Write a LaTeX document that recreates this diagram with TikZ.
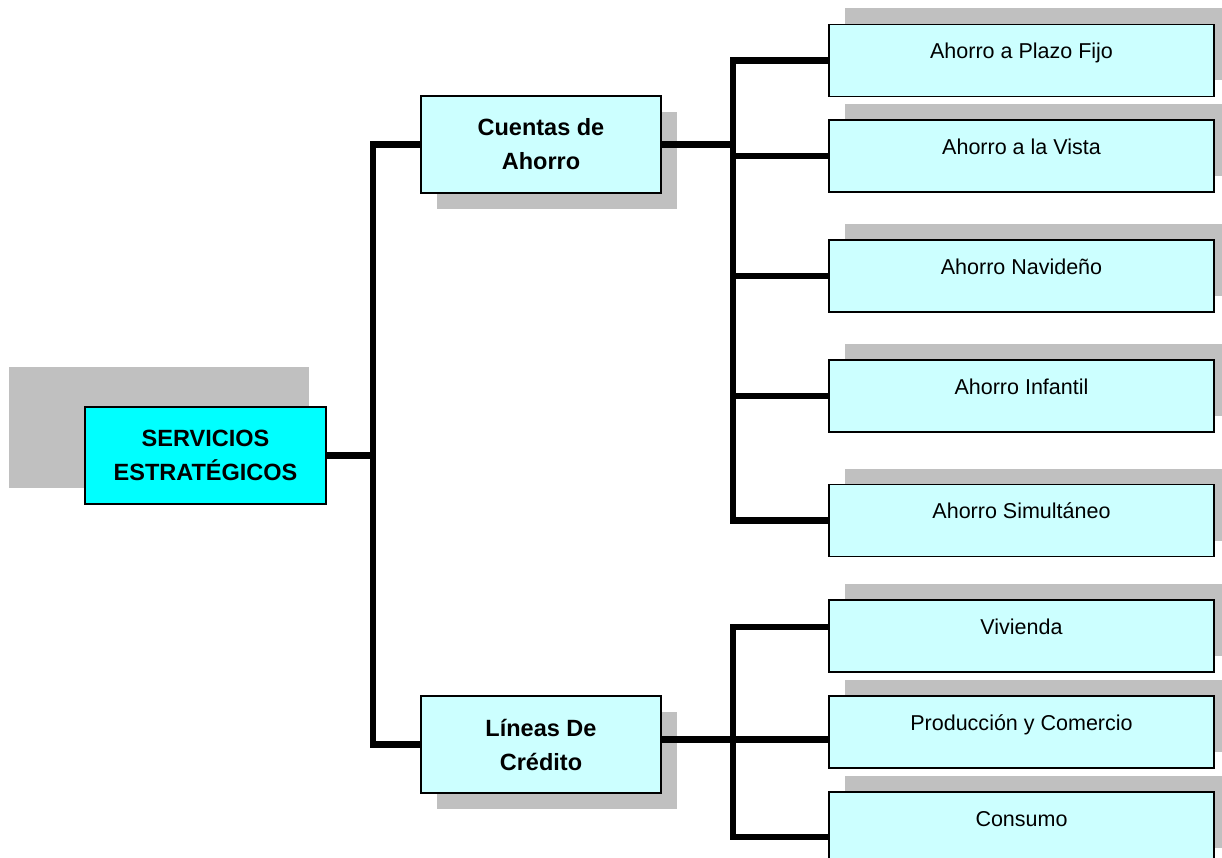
\documentclass[tikz,border=0pt]{standalone}
\usepackage{fontspec}
\setmainfont{Liberation Sans}
\usetikzlibrary{shadows}
\definecolor{boxfill}{HTML}{CCFFFF}
\definecolor{rootfill}{HTML}{00FFFF}
\definecolor{shadowgray}{HTML}{C0C0C0}
\tikzset{
  conn/.style={line width=6.8pt, line join=miter},
  leaf/.style={draw, line width=1.2pt, fill=boxfill, inner sep=0pt,
    minimum width=385pt, minimum height=72pt, text height=15.5pt, text depth=19pt,
    font=\fontsize{21.5}{26}\selectfont,
    drop shadow={shadow xshift=16pt, shadow yshift=16pt, fill=shadowgray, opacity=1}},
  catbox/.style={draw, line width=1.2pt, fill=boxfill, inner sep=0pt,
    minimum width=240pt, minimum height=97pt, align=center,
    font=\bfseries\fontsize{23.5}{34}\selectfont,
    drop shadow={shadow xshift=16pt, shadow yshift=-16pt, fill=shadowgray, opacity=1}},
  rootbox/.style={draw, line width=1.2pt, fill=rootfill, inner sep=0pt,
    minimum width=241pt, minimum height=97pt, align=center,
    font=\bfseries\fontsize{23.5}{34}\selectfont}
}
\begin{document}
\begin{tikzpicture}[x=1pt,y=-1pt]
  \useasboundingbox (0,0) rectangle (1222,858);
  % root with its large offset shadow
  \fill[shadowgray] (9,367) rectangle (309,488);
  \node[rootbox] (root) at (205.5,455.5) {SERVICIOS\\ESTRATÉGICOS};
  \node[catbox] (cuentas) at (541,144.5) {Cuentas de\\Ahorro};
  \node[catbox] (lineas) at (541,744.5) {Líneas De\\Crédito};
  \foreach \name/\y/\txt in {plazo/60.5/Ahorro a Plazo Fijo, vista/156/Ahorro a la Vista,
      navideno/276/Ahorro Navideño, infantil/396/Ahorro Infantil,
      simultaneo/520.5/Ahorro Simultáneo, vivienda/636/Vivienda,
      produccion/732/Producción y Comercio, consumo/828/Consumo}
    \node[leaf] (\name) at (1021.5,\y) {\txt};
  % trunks
  \coordinate (t1) at (373,455.5);
  \coordinate (t2) at (733,300);
  \coordinate (t3) at (733,739.5);
  \draw[conn] (root.east) -- (root.east -| t1);
  \draw[conn] (cuentas.west) -| (t1) |- (lineas.west);
  \draw[conn] (cuentas.east) -- (cuentas.east -| t2);
  \draw[conn] (plazo.west) -| (t2) |- (simultaneo.west);
  \foreach \name in {vista,navideno,infantil}
    \draw[conn] (t2 |- \name.west) -- (\name.west);
  \draw[conn] ([yshift=5pt]lineas.east) -- (t3) -- (t3 -| produccion.west);
  \draw[conn] ([yshift=9pt]vivienda.west) -| (t3) |- ([yshift=-9pt]consumo.west);
\end{tikzpicture}
\end{document}
